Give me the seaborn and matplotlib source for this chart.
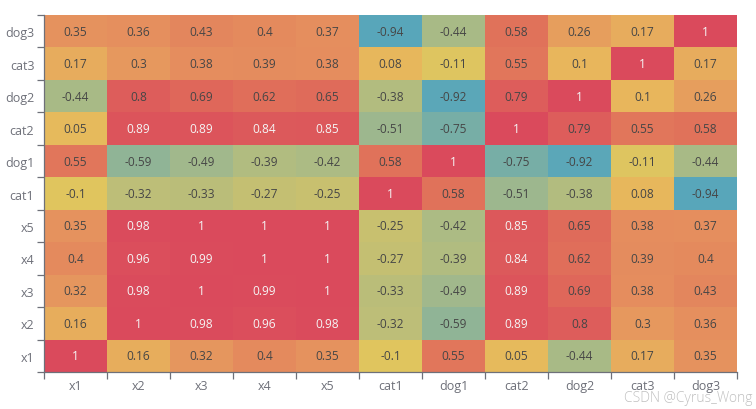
import numpy as np
import pandas as pd
import matplotlib
matplotlib.use('Agg')
import matplotlib.pyplot as plt
import seaborn as sns
from matplotlib.colors import LinearSegmentedColormap

# 变量名（从下往上 / 从左往右）
labels = ['x1', 'x2', 'x3', 'x4', 'x5', 'cat1', 'dog1', 'cat2', 'dog2', 'cat3', 'dog3']

# 相关系数矩阵，行顺序与 labels 相同
corr_x1 = [1, 0.16, 0.32, 0.4, 0.35, -0.1, 0.55, 0.05, -0.44, 0.17, 0.35]
corr_x2 = [0.16, 1, 0.98, 0.96, 0.98, -0.32, -0.59, 0.89, 0.8, 0.3, 0.36]
corr_x3 = [0.32, 0.98, 1, 0.99, 1, -0.33, -0.49, 0.89, 0.69, 0.38, 0.43]
corr_x4 = [0.4, 0.96, 0.99, 1, 1, -0.27, -0.39, 0.84, 0.62, 0.39, 0.4]
corr_x5 = [0.35, 0.98, 1, 1, 1, -0.25, -0.42, 0.85, 0.65, 0.38, 0.37]
corr_cat1 = [-0.1, -0.32, -0.33, -0.27, -0.25, 1, 0.58, -0.51, -0.38, 0.08, -0.94]
corr_dog1 = [0.55, -0.59, -0.49, -0.39, -0.42, 0.58, 1, -0.75, -0.92, -0.11, -0.44]
corr_cat2 = [0.05, 0.89, 0.89, 0.84, 0.85, -0.51, -0.75, 1, 0.79, 0.55, 0.58]
corr_dog2 = [-0.44, 0.8, 0.69, 0.62, 0.65, -0.38, -0.92, 0.79, 1, 0.1, 0.26]
corr_cat3 = [0.17, 0.3, 0.38, 0.39, 0.38, 0.08, -0.11, 0.55, 0.1, 1, 0.17]
corr_dog3 = [0.35, 0.36, 0.43, 0.4, 0.37, -0.94, -0.44, 0.58, 0.26, 0.17, 1]

rows = [corr_x1, corr_x2, corr_x3, corr_x4, corr_x5, corr_cat1,
        corr_dog1, corr_cat2, corr_dog2, corr_cat3, corr_dog3]

df = pd.DataFrame(rows, index=labels, columns=labels)
df = df.iloc[::-1]  # 顶部显示 dog3

# 颜色映射（近似 echarts visualMap）
cmap = LinearSegmentedColormap.from_list('corr', [
    (0.00, '#55a3bd'),
    (0.03, '#58a6ba'),
    (0.25, '#9fb88d'),
    (0.45, '#e0c55e'),
    (0.55, '#e8b65c'),
    (0.68, '#e5905e'),
    (0.80, '#e0705a'),
    (1.00, '#da4a5c'),
])

sns.set_style('white')
plt.rcParams['font.family'] = ['Open Sans', 'DejaVu Sans']

fig = plt.figure(figsize=(7.56, 4.10), dpi=100)
ax = fig.add_axes([44 / 756, 1 - 373 / 410, 693 / 756, 357 / 410])

sns.heatmap(df, ax=ax, cmap=cmap, vmin=-1, vmax=1, cbar=False,
            annot=False, linewidths=0)

# 数值标签
n = len(labels)
for i in range(n):
    for j in range(n):
        v = df.iat[i, j]
        color = '#f5f5f5' if v > 0.82 else '#464646'
        ax.text(j + 0.5, i + 0.5, f'{v:g}', ha='center', va='center',
                fontsize=8.6, color=color)

# 坐标轴样式
axis_color = '#6e7079'
for side in ['top', 'right']:
    ax.spines[side].set_visible(False)
for side in ['left', 'bottom']:
    ax.spines[side].set_visible(True)
    ax.spines[side].set_color(axis_color)
    ax.spines[side].set_linewidth(0.9)

ax.set_xticks(np.arange(n + 1))
ax.set_yticks(np.arange(n + 1))
ax.set_xticklabels([])
ax.set_yticklabels([])
ax.set_xticks(np.arange(n) + 0.5, minor=True)
ax.set_yticks(np.arange(n) + 0.5, minor=True)
ax.set_xticklabels(labels, minor=True)
ax.set_yticklabels(df.index, minor=True, rotation=0)
ax.tick_params(axis='both', which='major', length=5, width=0.9,
               color=axis_color, bottom=True, left=True)
ax.tick_params(axis='both', which='minor', length=0, labelsize=9,
               labelcolor=axis_color, bottom=True, left=True)
ax.tick_params(axis='x', which='minor', pad=5)
ax.tick_params(axis='y', which='minor', pad=7)
ax.set_xlabel('')
ax.set_ylabel('')

fig.text(752 / 756, 1 - 399 / 410, 'CSDN @Cyrus_Wong', ha='right', va='center',
         fontsize=10, color='#c0c0c0', fontweight='light')

fig.savefig('out.png', dpi=100)
